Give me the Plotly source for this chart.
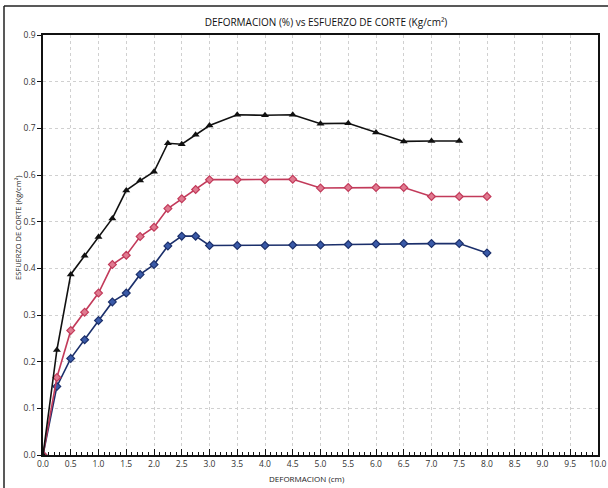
import plotly.graph_objects as go

deformacion = [0, 0.25, 0.5, 0.75, 1.0, 1.25, 1.5, 1.75, 2.0, 2.25, 2.5, 2.75, 3.0,
               3.5, 4.0, 4.5, 5.0, 5.5, 6.0, 6.5, 7.0, 7.5, 8.0]

serie_negra = [0, 0.225, 0.387, 0.427, 0.467, 0.507, 0.567, 0.588, 0.607, 0.668, 0.666,
               0.686, 0.706, 0.729, 0.728, 0.729, 0.710, 0.711, 0.691, 0.672, 0.673, 0.673]
serie_roja = [0, 0.166, 0.267, 0.306, 0.347, 0.408, 0.428, 0.468, 0.488, 0.528, 0.549,
              0.569, 0.590, 0.590, 0.590, 0.591, 0.572, 0.573, 0.573, 0.573, 0.554, 0.554, 0.554]
serie_azul = [0, 0.147, 0.207, 0.247, 0.288, 0.328, 0.347, 0.387, 0.408, 0.448, 0.469,
              0.469, 0.449, 0.449, 0.449, 0.450, 0.450, 0.451, 0.452, 0.453, 0.453, 0.453, 0.433]

x_ticks = [i * 0.5 for i in range(21)]
y_ticks = [i * 0.1 for i in range(10)]

fig = go.Figure()
fig.add_trace(go.Scatter(
    x=deformacion[:len(serie_azul)], y=serie_azul, mode="lines+markers",
    line=dict(color="#1b2f6b", width=1.6),
    marker=dict(symbol="diamond", size=6, color="#3a5aa8", line=dict(color="#1b2f6b", width=1.2)),
))
fig.add_trace(go.Scatter(
    x=deformacion[:len(serie_roja)], y=serie_roja, mode="lines+markers",
    line=dict(color="#c23a5a", width=1.6),
    marker=dict(symbol="diamond", size=6, color="#e07a90", line=dict(color="#c23a5a", width=1.2)),
))
fig.add_trace(go.Scatter(
    x=deformacion[:len(serie_negra)], y=serie_negra, mode="lines+markers",
    line=dict(color="#111111", width=1.6),
    marker=dict(symbol="triangle-up", size=7, color="#111111"),
))

font_fam = "Open Sans, Liberation Sans, sans-serif"

fig.update_layout(
    width=608, height=488,
    margin=dict(l=43, r=10, t=35, b=33, autoexpand=False),
    paper_bgcolor="white", plot_bgcolor="white",
    showlegend=False,
    font=dict(family=font_fam, color="#333333", size=9),
    title=dict(text="DEFORMACION (%) vs ESFUERZO DE CORTE (Kg/cm²)",
               x=326 / 608, xanchor="center", y=1 - 22 / 488, yanchor="middle",
               font=dict(size=10, color="#111111", family=font_fam)),
)
fig.update_xaxes(
    range=[0, 10], tickvals=x_ticks, ticktext=[f"{v:.1f}" for v in x_ticks],
    showline=True, linecolor="#111111", linewidth=1.5, mirror=True,
    ticks="inside", ticklen=6, tickcolor="#111111", tickwidth=1,
    minor=dict(dtick=0.1, ticks="inside", ticklen=3, tickcolor="#111111", showgrid=False),
    showgrid=True, gridcolor="#d0d0d0", griddash="dot", gridwidth=1,
    zeroline=False, automargin=False,
    tickfont=dict(size=8.5, color="#333333"),
)
fig.update_yaxes(
    range=[0, 0.9], tickvals=y_ticks, ticktext=[f"{v:.1f}" for v in y_ticks],
    showline=True, linecolor="#111111", linewidth=1.5, mirror=True,
    ticks="outside", ticklen=4, tickcolor="#111111",
    showgrid=True, gridcolor="#d0d0d0", griddash="dot", gridwidth=1,
    zeroline=False, automargin=False,
    tickfont=dict(size=8.5, color="#333333"),
)

pw = 608 - 43 - 10
ph = 488 - 35 - 33

# axis titles placed as annotations to match reference positions
fig.add_annotation(text="ESFUERZO DE CORTE (Kg/cm²)", xref="paper", yref="paper",
                   x=(18 - 43) / pw, y=(455 - 228) / ph, textangle=-90, showarrow=False,
                   xanchor="center", yanchor="middle",
                   font=dict(size=7.5, color="#222222", family=font_fam))
fig.add_annotation(text="DEFORMACION (cm)", xref="paper", yref="paper",
                   x=(307 - 43) / pw, y=(455 - 478) / ph, showarrow=False,
                   xanchor="center", yanchor="middle",
                   font=dict(size=8, color="#222222", family=font_fam))

# outer chart frame (top and left edges visible in the reference)
x_left = (4 - 43) / pw
y_top = (488 - 6 - 33) / ph
fig.add_shape(type="line", xref="paper", yref="paper", x0=x_left, x1=(608 - 43) / pw,
              y0=y_top, y1=y_top, line=dict(color="#222222", width=1.5))
fig.add_shape(type="line", xref="paper", yref="paper", x0=x_left, x1=x_left,
              y0=y_top, y1=-33 / ph, line=dict(color="#222222", width=1.5))

fig.write_html("out.html",
               config={"displayModeBar": False, "responsive": False},
               post_script="document.body.style.margin='0';document.body.style.overflow='hidden';")
